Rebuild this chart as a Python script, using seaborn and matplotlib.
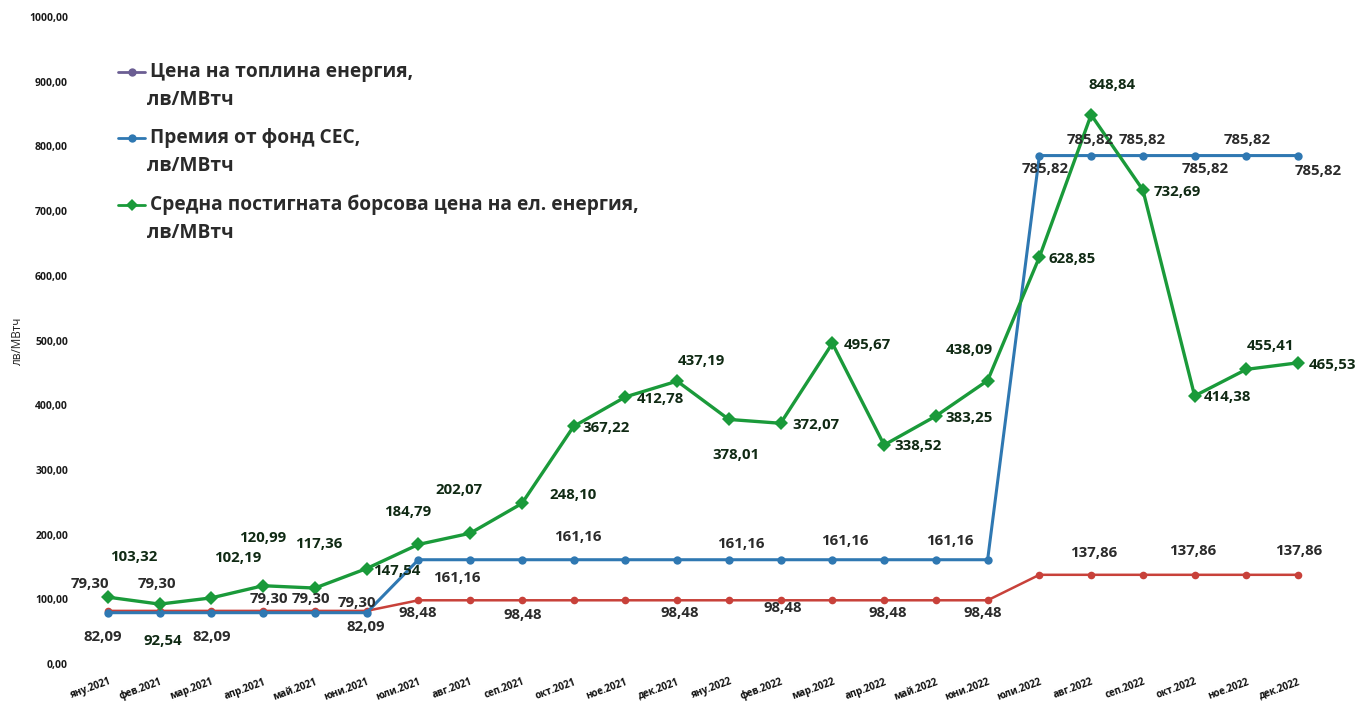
import matplotlib
matplotlib.use("Agg")
import matplotlib.pyplot as plt
from matplotlib.lines import Line2D
import seaborn as sns
import pandas as pd
import numpy as np

months = ["яну.2021", "фев.2021", "мар.2021", "апр.2021", "май.2021", "юни.2021",
          "юли.2021", "авг.2021", "сеп.2021", "окт.2021", "ное.2021", "дек.2021",
          "яну.2022", "фев.2022", "мар.2022", "апр.2022", "май.2022", "юни.2022",
          "юли.2022", "авг.2022", "сеп.2022", "окт.2022", "ное.2022", "дек.2022"]

heat_price = [82.09] * 6 + [98.48] * 12 + [137.86] * 6
ces_premium = [79.30] * 6 + [161.16] * 12 + [785.82] * 6
exchange_price = [103.32, 92.54, 102.19, 120.99, 117.36, 147.54, 184.79, 202.07,
                  248.10, 367.22, 412.78, 437.19, 378.01, 372.07, 495.67, 338.52,
                  383.25, 438.09, 628.85, 848.84, 732.69, 414.38, 455.41, 465.53]

legend_labels = ["Цена на топлина енергия,\nлв/МВтч",
                 "Премия от фонд СЕС,\nлв/МВтч",
                 "Средна постигната борсова цена на ел. енергия,\nлв/МВтч"]
y_label = "лв/МВтч"
y_ticks = [0, 100, 200, 300, 400, 500, 600, 700, 800, 900, 1000]

# label offsets in pixels (dx, dy) for points that carry a data label
green_off = {0: (26, 40), 1: (3, -37), 2: (26, 40), 3: (0, 48), 4: (4, 44), 5: (30, -2),
             6: (-11, 32), 7: (-11, 43), 8: (51, 8), 9: (32, -2), 10: (35, -2), 11: (24, 20),
             12: (7, -36), 13: (35, -2), 14: (35, -2), 15: (34, -1), 16: (33, -2), 17: (-18, 31),
             18: (33, -2), 19: (21, 30), 20: (34, -2), 21: (33, -1), 22: (24, 23), 23: (34, -2)}
blue_off = {0: (-18, 29), 1: (-3, 29), 3: (6, 14), 4: (-4, 14), 5: (-10, 10), 6: (38, -18),
            9: (4, 23), 12: (12, 16), 14: (12, 19), 16: (14, 19), 18: (6, -13), 19: (-1, 16),
            20: (-1, 16), 21: (11, -13), 22: (1, 16), 23: (20, -15)}
red_off = {0: (-5, -26), 2: (0, -26), 5: (-1, -16), 6: (-1, -13), 8: (1, -15), 11: (3, -13),
           13: (2, -8), 15: (4, -13), 17: (-5, -13), 19: (3, 22), 21: (-2, 24), 23: (1, 24)}

C_RED = "#c8413a"
C_BLUE = "#2f78b2"
C_GREEN = "#1a9a3a"
C_HEAT_LEG = "#6b5e93"

sns.set_theme(style="white")
plt.rcParams["font.family"] = ["Open Sans", "DejaVu Sans"]

fig = plt.figure(figsize=(13.56, 7.04), dpi=100)
ax = fig.add_axes([82 / 1356, 40 / 704, 1242 / 1356, 647 / 704])

x = np.arange(len(months))
df = pd.DataFrame({"x": x, "heat": heat_price, "ces": ces_premium, "exch": exchange_price})

sns.lineplot(data=df, x="x", y="heat", ax=ax, color=C_RED, linewidth=1.8,
             marker="o", markersize=5.5, markeredgewidth=0, zorder=2)
sns.lineplot(data=df, x="x", y="ces", ax=ax, color=C_BLUE, linewidth=2.2,
             marker="o", markersize=6, markeredgewidth=0, zorder=3)
sns.lineplot(data=df, x="x", y="exch", ax=ax, color=C_GREEN, linewidth=2.4,
             marker="D", markersize=7.5, markeredgewidth=0, zorder=4)


def fmt(v):
    return f"{v:.2f}".replace(".", ",")


def put_labels(vals, offs, color):
    for i, (dx, dy) in offs.items():
        ax.annotate(fmt(vals[i]), xy=(x[i], vals[i]), xytext=(dx, dy),
                    textcoords="offset pixels", ha="center", va="center",
                    fontsize=10.8, fontweight="bold", color=color, zorder=6)


put_labels(heat_price, red_off, "#2b2b2b")
put_labels(ces_premium, blue_off, "#2b2b2b")
put_labels(exchange_price, green_off, "#102a14")

ax.set_xlim(-0.5, len(months) - 0.5)
ax.set_ylim(0, 1000)
ax.set_yticks(y_ticks)
ax.set_yticklabels([fmt(v) for v in y_ticks], fontsize=7.5, fontweight="bold", color="#1a1a1a")
ax.set_xticks(x)
ax.set_xticklabels(months, fontsize=7, fontweight="bold", color="#111111",
                   rotation=20, ha="right", rotation_mode="anchor")
ax.tick_params(axis="x", pad=9, length=0)
ax.tick_params(axis="y", pad=10, length=0)
ax.set_xlabel("")
ax.set_ylabel(y_label, fontsize=8.5, color="#222222", labelpad=4)
for s in ax.spines.values():
    s.set_visible(False)

# legend drawn at top-left
leg_colors = [C_HEAT_LEG, C_BLUE, C_GREEN]
leg_markers = ["o", "o", "D"]
leg_y = [72, 138, 205]
W, H = 1356, 704
for lab, col, mk, yy in zip(legend_labels, leg_colors, leg_markers, leg_y):
    fig.add_artist(Line2D([118 / W, 145 / W], [1 - yy / H, 1 - yy / H], color=col,
                          linewidth=2.0, marker=None, transform=fig.transFigure))
    fig.add_artist(Line2D([131.5 / W], [1 - yy / H], color=col, marker=mk,
                          markersize=6 if mk == "o" else 6.5, markeredgewidth=0,
                          transform=fig.transFigure))
    l1, l2 = lab.split("\n")
    fig.text(150 / W, 1 - yy / H, l1, fontsize=13.8, fontweight="bold",
             color="#2a2a2a", va="center", ha="left")
    fig.text(147 / W, 1 - (yy + 28) / H, l2, fontsize=13.8, fontweight="bold",
             color="#2a2a2a", va="center", ha="left")

fig.savefig("out.png", dpi=100)
